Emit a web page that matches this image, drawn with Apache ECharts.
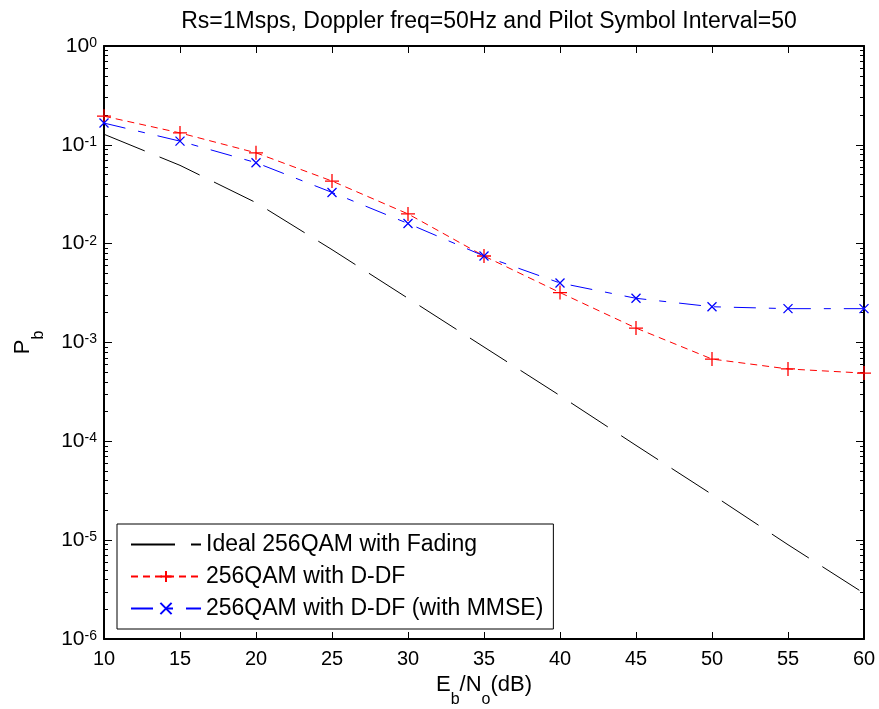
<!DOCTYPE html>
<html>
<head>
<meta charset="utf-8">
<script src="https://cdn.jsdelivr.net/npm/echarts@6/dist/echarts.min.js"></script>
<style>html,body{margin:0;padding:0;background:#fff;}#c{width:879px;height:709px;}</style>
</head>
<body>
<div id="c"></div>
<script>
const ebno = [10, 15, 20, 25, 30, 35, 40, 45, 50, 55, 60];
const idealFading = [0.128, 0.062, 0.026, 0.0087, 0.0028, 0.0009, 0.00029, 0.000091, 0.000029, 0.000009, 0.0000029];
const ddf = [0.195, 0.132, 0.083, 0.043, 0.020, 0.0075, 0.0032, 0.0014, 0.00068, 0.00054, 0.00049];
const ddfMmse = [0.166, 0.109, 0.066, 0.033, 0.016, 0.0075, 0.0040, 0.0028, 0.0023, 0.0022, 0.0022];
const seriesNames = ['Ideal 256QAM with Fading', '256QAM with D-DF', '256QAM with D-DF (with MMSE)'];
const titleText = 'Rs=1Msps, Doppler freq=50Hz and Pilot Symbol Interval=50';
const minorVals = [];
for (let e = -6; e < 0; e++) for (let m = 2; m <= 9; m++) minorVals.push(+(m * Math.pow(10, e)).toPrecision(3));

const FONT = 'Liberation Sans, Arial, sans-serif';
const pair = (a, b) => a.map((v, i) => [v, b[i]]);
const plusPath = 'path://M0,-1L0,1M-1,0L1,0';
const crossPath = 'path://M-1,-1L1,1M-1,1L1,-1';

const yRich = {
  b: { fontSize: 21, lineHeight: 20, verticalAlign: 'middle', fontFamily: FONT, color: '#000' },
  e: { fontSize: 14, lineHeight: 8, verticalAlign: 'top', padding: [0, 0, 18, 0], fontFamily: FONT, color: '#000' }
};
const yFmt = v => '{b|10}{e|' + Math.round(Math.log10(v)) + '}';
const nameRich = {
  a: { fontSize: 22, lineHeight: 22, verticalAlign: 'top', padding: [0, 0, 10, 0], fontFamily: FONT, color: '#000' },
  s: { fontSize: 16, lineHeight: 10, verticalAlign: 'top', padding: [18, 0, 4, 0], fontFamily: FONT, color: '#000' }
};

const baseY = {
  type: 'log', logBase: 10, min: 1e-6, max: 1, gridIndex: 0,
  splitLine: { show: false }, minorTick: { show: false }
};

const chart = echarts.init(document.getElementById('c'), null, { renderer: 'canvas' });
chart.setOption({
  backgroundColor: '#fff',
  animation: false,
  title: {
    text: titleText, left: 484, top: 5, textAlign: 'center',
    textStyle: { fontFamily: FONT, fontSize: 23, fontWeight: 'normal', color: '#000' }
  },
  grid: { left: 104, right: 15, top: 46, bottom: 70, containLabel: false, outerBoundsMode: 'none' },
  legend: {
    orient: 'vertical', left: 117, top: 524,
    backgroundColor: '#fff', borderColor: '#000', borderWidth: 1,
    padding: [9, 10, 9, 13], itemGap: 9, itemWidth: 70, itemHeight: 14,
    textStyle: { fontFamily: FONT, fontSize: 23, color: '#000' },
    data: [
      { name: seriesNames[0], itemStyle: { opacity: 0 } },
      { name: seriesNames[1] },
      { name: seriesNames[2] }
    ]
  },
  xAxis: [{
    type: 'value', min: 10, max: 60, interval: 5, position: 'bottom',
    name: '{a|E}{s|b}{a|/N}{s|o}{a|(dB)}', nameLocation: 'middle', nameGap: 35,
    nameTextStyle: { rich: nameRich },
    axisLine: { lineStyle: { color: '#000', width: 2 } },
    axisTick: { inside: true, length: 7, lineStyle: { color: '#000' } },
    axisLabel: { fontFamily: FONT, fontSize: 20, color: '#000', margin: 10 },
    splitLine: { show: false }
  }, {
    type: 'value', min: 10, max: 60, interval: 5, position: 'top',
    axisLine: { lineStyle: { color: '#000', width: 2 } },
    axisTick: { inside: true, length: 7, lineStyle: { color: '#000' } },
    axisLabel: { show: false }, splitLine: { show: false }
  }],
  yAxis: [Object.assign({}, baseY, {
    position: 'left',
    name: '{a|P}{s|b}', nameLocation: 'middle', nameGap: 66, nameRotate: 90,
    nameTextStyle: { rich: nameRich },
    axisLine: { lineStyle: { color: '#000', width: 2 } },
    axisTick: { inside: true, length: 8, lineStyle: { color: '#000' } },
    axisLabel: { formatter: yFmt, rich: yRich, margin: 7 }
  }), Object.assign({}, baseY, {
    position: 'left',
    axisLine: { show: false },
    axisTick: { inside: true, length: 4, customValues: minorVals, lineStyle: { color: '#000' } },
    axisLabel: { show: false }
  }), Object.assign({}, baseY, {
    position: 'right',
    axisLine: { lineStyle: { color: '#000', width: 2 } },
    axisTick: { inside: true, length: 8, lineStyle: { color: '#000' } },
    axisLabel: { show: false }
  }), Object.assign({}, baseY, {
    position: 'right',
    axisLine: { show: false },
    axisTick: { inside: true, length: 4, customValues: minorVals, lineStyle: { color: '#000' } },
    axisLabel: { show: false }
  })],
  series: [{
    name: seriesNames[0], type: 'line', data: pair(ebno, idealFading),
    symbol: 'none', lineStyle: { color: '#000', width: 1, type: [44, 16] },
    itemStyle: { color: '#000' }
  }, {
    name: seriesNames[1], type: 'line', data: pair(ebno, ddf),
    symbol: plusPath, symbolSize: 14, showSymbol: true,
    lineStyle: { color: '#ff0000', width: 1, type: [7, 5] },
    itemStyle: { color: 'none', borderColor: '#ff0000', borderWidth: 1.3 }
  }, {
    name: seriesNames[2], type: 'line', data: pair(ebno, ddfMmse),
    symbol: crossPath, symbolSize: 9, showSymbol: true,
    lineStyle: { color: '#0000ff', width: 1, type: [22, 13, 7, 13] },
    itemStyle: { color: 'none', borderColor: '#0000ff', borderWidth: 1.3 }
  }]
});
</script>
</body>
</html>
